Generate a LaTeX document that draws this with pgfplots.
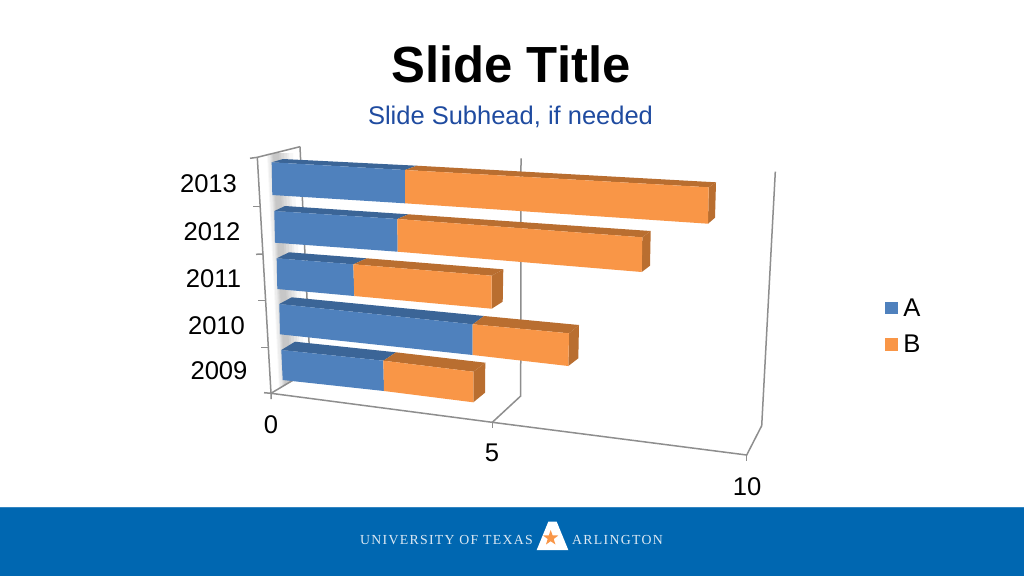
\documentclass[border=0pt]{standalone}
\usepackage{pgfplots}
\pgfplotsset{compat=1.18}
\usepackage{fontspec}
\setmainfont{Liberation Sans}
\newfontfamily\logofont[LetterSpace=9.4]{Liberation Serif}
\definecolor{bluef}{HTML}{4F81BD}
\definecolor{bluet}{HTML}{3B6597}
\definecolor{orangef}{HTML}{F99647}
\definecolor{oranget}{HTML}{B96E30}
\definecolor{band}{HTML}{0067B1}
\definecolor{subh}{HTML}{1F4BA0}
\definecolor{gridc}{HTML}{8E8E8E}
\definecolor{logotx}{HTML}{DDE9F3}
\newcommand\poly[2]{\addplot[fill=#1,draw=none,forget plot] coordinates {#2} -- cycle;}
\newcommand\gln[1]{\addplot[draw=gridc,line width=1.5pt,forget plot] coordinates {#1};}
\newcommand\txt[3]{\node[anchor=center,inner sep=0pt] at (axis cs:#1,#2) {\fontsize{25.6}{28}\selectfont #3};}
\begin{document}
\begin{tikzpicture}
\begin{axis}[
  scale only axis, width=1024pt, height=576pt,
  xmin=0, xmax=1024, ymin=0, ymax=576, y dir=reverse,
  axis lines=none, clip=false, no markers
]
% page and footer band
\poly{white}{(0,0) (1024,0) (1024,576) (0,576)}
\poly{band}{(0,507) (1024,507) (1024,576) (0,576)}
\poly{band!80!white}{(0,507) (1024,507) (1024,508) (0,508)}
% soft shadow of the bars on the wall
\poly{gray!6}{(267,153) (293,153) (305,374) (279,388)}
\poly{gray!14}{(268,153) (289,153) (301,376) (280,388)}
\poly{gray!22}{(270,153) (287,153) (299,378) (282,387)}
\poly{gray!30}{(271,153) (284,153) (296,379) (283,386)}
\poly{gray!38}{(272,153) (281,153) (293,381) (284,386)}
\poly{gray!44}{(273,153) (279,153) (291,382) (285,385)}
% walls and floor
\gln{(250,158.3) (257.3,157.3) (300,146.7)}
\gln{(257.3,157.3) (271,393.3) (492.3,422.3) (746.7,455) (761.7,425.7) (775.3,171.7)}
\gln{(300,146.7) (309,341.7) (310,370)}
\gln{(271,393.3) (310,370)}
\gln{(492.3,422.3) (520.7,396) (521,158.3)}
\gln{(253.3,206.7) (260.7,206.7)}
\gln{(256,254.3) (263.3,254)}
\gln{(258.3,300.7) (266,300.7)}
\gln{(261,347.3) (268.3,347.3)}
\gln{(264,392.7) (271,393.3) (271,399)}
\gln{(492.3,422.3) (492.3,428)}
\gln{(746.7,455) (746.7,461)}
% 2013
\poly{bluet}{(271.7,162.3) (283,159) (416.7,165.7) (405,170)}
\poly{oranget}{(405,170) (416.7,165.7) (716,182.3) (708.7,187.3)}
\poly{oranget}{(708.7,187.3) (716,182.3) (715,217.7) (708,223.7)}
\poly{bluef}{(271.7,162.3) (405,170) (405,203.3) (272.3,195)}
\poly{orangef}{(405,170) (708.7,187.3) (708,223.7) (405,203.3)}
% 2012
\poly{bluet}{(274.3,211) (285,206) (408.3,214.3) (397.3,219)}
\poly{oranget}{(397.3,219) (408.3,214.3) (650.7,231) (642.3,237.3)}
\poly{oranget}{(642.3,237.3) (650.7,231) (650,265.7) (641.7,272)}
\poly{bluef}{(274.3,211) (397.3,219) (397.7,251.7) (275,242.7)}
\poly{orangef}{(397.3,219) (642.3,237.3) (641.7,272) (397.7,251.7)}
% 2011
\poly{bluet}{(276.7,258.3) (289,252.3) (366.7,258.3) (353.3,264.3)}
\poly{oranget}{(353.3,264.3) (366.7,258.3) (503.3,269.3) (491.7,275.7)}
\poly{oranget}{(491.7,275.7) (503.3,269.3) (502.7,301.7) (491.7,308.7)}
\poly{bluef}{(276.7,258.3) (353.3,264.3) (354.3,296) (277.3,289)}
\poly{orangef}{(353.3,264.3) (491.7,275.7) (491.7,308.7) (354.3,296)}
% 2010
\poly{bluet}{(279.3,304) (291.7,297.3) (484,316) (472.7,324.3)}
\poly{oranget}{(472.7,324.3) (484,316) (579,325) (569,333.3)}
\poly{oranget}{(569,333.3) (579,325) (578.3,358.3) (568.3,366)}
\poly{bluef}{(279.3,304) (472.7,324.3) (472.7,355) (280,334.3)}
\poly{orangef}{(472.7,324.3) (569,333.3) (568.3,366) (472.7,355)}
% 2009
\poly{bluet}{(281.3,350) (295,341.7) (396,352.3) (383.3,360.7)}
\poly{oranget}{(383.3,360.7) (396,352.3) (485.3,362.7) (473.3,371.7)}
\poly{oranget}{(473.3,371.7) (485.3,362.7) (485,392.7) (473.3,402.3)}
\poly{bluef}{(281.3,350) (383.3,360.7) (384,391) (282.7,380)}
\poly{orangef}{(383.3,360.7) (473.3,371.7) (473.3,402.3) (384,391)}
% legend keys
\poly{bluef}{(885,301.7) (897.7,301.7) (897.7,314) (885,314)}
\poly{orangef}{(885,338.3) (897.7,338.3) (897.7,350.7) (885,350.7)}
% logo
\poly{white}{(548.3,521.7) (556.7,521.7) (568.3,550) (536.7,550)}
\poly{orangef}{(550.7,530) (552.6,535.4) (558.3,535.5) (553.7,539) (555.4,544.5) (550.7,541.2) (546,544.5) (547.7,539) (543.1,535.5) (548.8,535.4)}
% text
\node[inner sep=0pt] at (axis cs:511,64) {\fontsize{50.8}{54}\selectfont\bfseries Slide Title};
\node[inner sep=0pt,text=subh] at (axis cs:510.5,116.5) {\fontsize{25.5}{28}\selectfont Slide Subhead, if needed};
\txt{208.5}{184}{2013}
\txt{212}{232}{2012}
\txt{213.5}{279}{2011}
\txt{216.5}{326}{2010}
\txt{219}{371}{2009}
\txt{271}{425}{0}
\txt{492}{453}{5}
\txt{747}{487}{10}
\txt{912}{308}{A}
\txt{912}{344}{B}
\node[inner sep=0pt,text=logotx,anchor=west] at (axis cs:360,540) {\fontsize{13.8}{15}\logofont UNIVERSITY OF TEXAS};
\node[inner sep=0pt,text=logotx,anchor=west] at (axis cs:572,540) {\fontsize{13.8}{15}\logofont ARLINGTON};
\end{axis}
\end{tikzpicture}
\end{document}
